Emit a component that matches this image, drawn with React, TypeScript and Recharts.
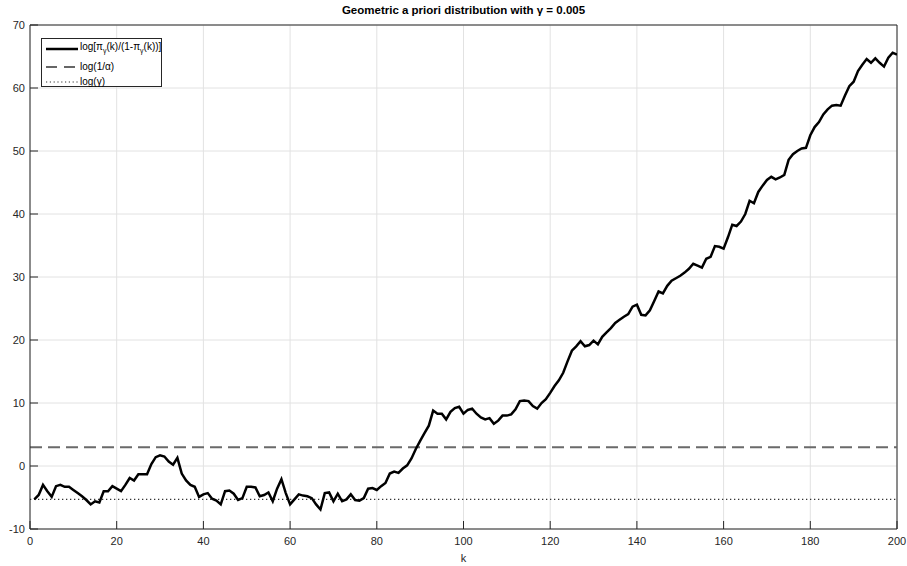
import React from 'react';
import { LineChart, Line, XAxis, YAxis, CartesianGrid, ReferenceLine } from 'recharts';

const alpha = 0.05;
const gamma = 0.005;

const xTicks = [0, 20, 40, 60, 80, 100, 120, 140, 160, 180, 200];
const yTicks = [-10, 0, 10, 20, 30, 40, 50, 60, 70];

// log[pi_gamma(k)/(1-pi_gamma(k))] for k = 1..200
const logOdds = [
  -5.3, -4.6, -3.0, -4.0, -4.9, -3.2, -3.0, -3.3, -3.3, -3.8,
  -4.3, -4.8, -5.4, -6.1, -5.6, -5.8, -4.0, -4.0, -3.2, -3.6,
  -4.0, -3.0, -1.9, -2.3, -1.3, -1.3, -1.3, 0.3, 1.4, 1.7,
  1.5, 0.7, 0.2, 1.3, -1.2, -2.3, -3.0, -3.3, -4.9, -4.5,
  -4.3, -5.2, -5.5, -6.1, -4.0, -3.9, -4.4, -5.4, -5.1, -3.3,
  -3.3, -3.4, -4.8, -4.6, -4.2, -5.6, -3.6, -2.1, -4.3, -6.1,
  -5.3, -4.5, -4.7, -4.8, -5.1, -6.1, -6.9, -4.3, -4.2, -5.6,
  -4.4, -5.6, -5.3, -4.5, -5.4, -5.5, -5.1, -3.6, -3.5, -3.8,
  -3.2, -2.7, -1.2, -0.9, -1.1, -0.4, 0.1, 1.2, 2.7, 4.0,
  5.2, 6.4, 8.8, 8.3, 8.3, 7.4, 8.6, 9.2, 9.4, 8.3,
  8.9, 9.1, 8.3, 7.7, 7.4, 7.6, 6.7, 7.2, 8.0, 8.0,
  8.2, 9.0, 10.3, 10.4, 10.3, 9.5, 9.1, 10.0, 10.6, 11.6,
  12.7, 13.6, 14.8, 16.6, 18.3, 19.0, 19.8, 19.0, 19.2, 19.9,
  19.3, 20.5, 21.2, 21.9, 22.7, 23.2, 23.7, 24.1, 25.3, 25.6,
  24.0, 23.9, 24.7, 26.2, 27.7, 27.4, 28.6, 29.4, 29.8, 30.2,
  30.7, 31.3, 32.1, 31.8, 31.5, 32.9, 33.2, 34.9, 34.8, 34.5,
  36.3, 38.3, 38.1, 38.8, 40.0, 42.1, 41.7, 43.5, 44.5, 45.4,
  45.9, 45.5, 45.8, 46.2, 48.6, 49.5, 50.0, 50.4, 50.5, 52.5,
  53.8, 54.6, 55.8, 56.6, 57.2, 57.3, 57.2, 58.8, 60.3, 61.0,
  62.7, 63.7, 64.6, 64.0, 64.7, 64.0, 63.4, 64.8, 65.6, 65.3,
];

const kValues = logOdds.map((_, i) => i + 1);
const data = kValues.map((k, i) => ({ k, value: logOdds[i] }));

const FONT = '"Liberation Sans Narrow", "Liberation Sans", Arial, sans-serif';
const AXIS = '#262626';

const LegendBox = () => {
  const row = (top: number, sample: React.ReactNode, label: React.ReactNode) => (
    <div style={{ position: 'absolute', left: 0, top: top - 7, height: 14, display: 'flex', alignItems: 'center' }}>
      <svg width={38} height={14} style={{ display: 'block' }}>{sample}</svg>
      <span style={{ whiteSpace: 'nowrap', lineHeight: '14px' }}>{label}</span>
    </div>
  );
  return (
    <div
      style={{
        position: 'absolute',
        left: 41,
        top: 38,
        width: 121,
        height: 49,
        border: `1px solid ${AXIS}`,
        background: '#fff',
        fontFamily: FONT,
        fontSize: 10,
        color: '#000',
        boxSizing: 'border-box',
      }}
    >
      {row(10, <line x1={4} x2={36} y1={7} y2={7} stroke="#000" strokeWidth={2.5} />,
        <>log[π<sub style={{ fontSize: 7 }}>γ</sub>(k)/(1-π<sub style={{ fontSize: 7 }}>γ</sub>(k))]</>)}
      {row(28, <line x1={4} x2={36} y1={7} y2={7} stroke="#666" strokeWidth={2} strokeDasharray="11 7" />,
        <>log(1/α)</>)}
      {row(43, <line x1={4} x2={36} y1={7} y2={7} stroke="#333" strokeWidth={1.2} strokeDasharray="1.2 2.6" />,
        <>log(γ)</>)}
    </div>
  );
};

export default function App() {
  return (
    <div style={{ position: 'absolute', left: 0, top: 0, width: 907, height: 566, background: '#fff' }}>
      <div
        style={{
          position: 'absolute',
          left: 30,
          width: 867,
          top: 2,
          textAlign: 'center',
          fontFamily: FONT,
          fontWeight: 'bold',
          fontSize: 11.5,
          color: '#000',
          lineHeight: '16px',
        }}
      >
        Geometric a priori distribution with γ = 0.005
      </div>
      <LineChart width={907} height={566} data={data} margin={{ top: 25, right: 10, left: 0, bottom: 0 }}>
        <CartesianGrid stroke="#e2e2e2" strokeWidth={1} xAxisId={0} yAxisId={0} />
        <XAxis
          xAxisId={0}
          dataKey="k"
          type="number"
          domain={[0, 200]}
          ticks={xTicks}
          interval={0}
          height={37}
          stroke={AXIS}
          tickSize={-8}
          tickMargin={16}
          tick={{ fill: '#262626', fontSize: 11, fontFamily: FONT }}
          label={{ value: 'k', position: 'insideBottom', offset: 4, fill: '#262626', fontSize: 11, fontFamily: FONT }}
          allowDataOverflow
        />
        <XAxis
          xAxisId="top"
          orientation="top"
          dataKey="k"
          type="number"
          domain={[0, 200]}
          ticks={xTicks}
          interval={0}
          height={0}
          stroke={AXIS}
          tickSize={-8}
          tickFormatter={() => ''}
          allowDataOverflow
        />
        <YAxis
          yAxisId={0}
          type="number"
          domain={[-10, 70]}
          ticks={yTicks}
          interval={0}
          width={30}
          stroke={AXIS}
          tickSize={-8}
          tickMargin={13}
          tick={{ fill: '#262626', fontSize: 11, fontFamily: FONT }}
          allowDataOverflow
        />
        <YAxis
          yAxisId="right"
          orientation="right"
          type="number"
          domain={[-10, 70]}
          ticks={yTicks}
          interval={0}
          width={0}
          stroke={AXIS}
          tickSize={-8}
          tickFormatter={() => ''}
          allowDataOverflow
        />
        <ReferenceLine xAxisId={0} yAxisId={0} y={70} stroke={AXIS} strokeWidth={1} />
        <ReferenceLine xAxisId={0} yAxisId={0} x={200} stroke={AXIS} strokeWidth={1} />
        <ReferenceLine xAxisId={0} yAxisId={0} y={Math.log(1 / alpha)} stroke="#6a6a6a" strokeWidth={2} strokeDasharray="12 6" />
        <ReferenceLine xAxisId={0} yAxisId={0} y={Math.log(gamma)} stroke="#333" strokeWidth={1.3} strokeDasharray="1.3 2.7" />
        <Line
          xAxisId="top"
          yAxisId="right"
          type="linear"
          dataKey="value"
          stroke="none"
          strokeWidth={0}
          dot={false}
          activeDot={false}
          isAnimationActive={false}
        />
        <Line
          xAxisId={0}
          yAxisId={0}
          type="linear"
          dataKey="value"
          stroke="#000"
          strokeWidth={2.5}
          dot={false}
          isAnimationActive={false}
        />
      </LineChart>
      <LegendBox />
    </div>
  );
}
